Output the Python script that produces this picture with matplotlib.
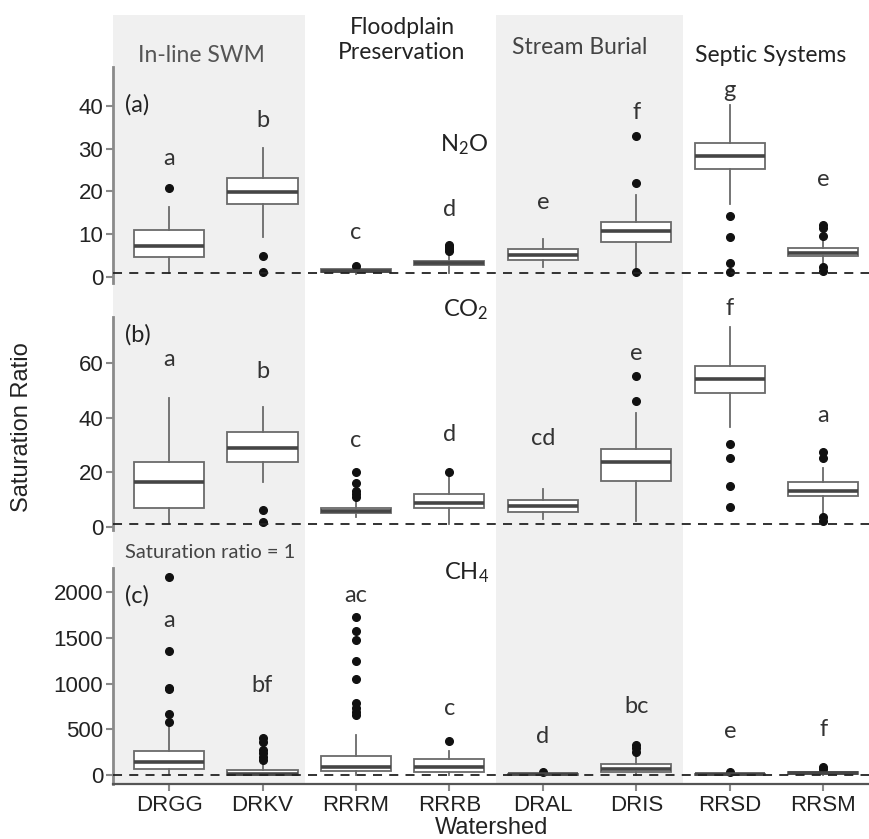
import matplotlib
matplotlib.use('Agg')
import matplotlib.pyplot as plt

plt.rcParams['mathtext.fontset'] = 'custom'
plt.rcParams['mathtext.rm'] = 'Lato'
plt.rcParams['mathtext.it'] = 'Lato:italic'

watersheds = ['DRGG', 'DRKV', 'RRRM', 'RRRB', 'DRAL', 'DRIS', 'RRSD', 'RRSM']
groups = ['In-line SWM', 'Floodplain\nPreservation', 'Stream Burial', 'Septic Systems']

# ---- N2O ----
n2o_whislo = [1.0, 9.3, 0.8, 1.0, 2.4, 1.5, 17.1, 3.3]
n2o_q1 = [4.6, 17.1, 1.2, 2.7, 4.0, 8.3, 25.2, 4.9]
n2o_med = [7.3, 19.8, 1.5, 3.2, 5.1, 10.8, 28.4, 5.7]
n2o_q3 = [11.0, 23.1, 1.8, 3.8, 6.5, 12.8, 31.4, 6.7]
n2o_whishi = [16.4, 30.2, 2.3, 5.3, 8.8, 19.2, 40.2, 9.0]
n2o_fliers = [[20.8], [4.9, 1.2], [2.6], [6.0, 6.5, 7.0, 7.4], [],
              [21.9, 33.0, 1.1], [14.3, 9.3, 3.2, 1.2], [9.6, 11.4, 12.2, 2.4, 1.3]]
n2o_letters = ['a', 'b', 'c', 'd', 'e', 'f', 'g', 'e']
n2o_letter_y = [27.6, 36.7, 10.3, 15.7, 17.4, 38.4, 43.6, 22.9]

# ---- CO2 ----
co2_whislo = [1.3, 16.6, 3.5, 1.2, 2.8, 2.3, 36.7, 5.0]
co2_q1 = [6.8, 23.9, 5.1, 6.8, 5.6, 16.8, 48.9, 11.3]
co2_med = [16.6, 29.0, 5.8, 8.7, 7.8, 23.6, 54.0, 13.2]
co2_q3 = [23.6, 34.6, 7.0, 12.1, 9.9, 28.4, 58.9, 16.3]
co2_whishi = [47.0, 44.0, 10.6, 20.0, 13.8, 41.6, 73.0, 21.5]
co2_fliers = [[], [6.2, 1.7], [11.0, 12.1, 13.3, 16.0, 20.2], [20.2], [],
              [46.2, 55.2], [30.3, 25.1, 15.1, 7.2], [25.3, 27.5, 3.6, 2.2]]
co2_letters = ['a', 'b', 'c', 'd', 'cd', 'e', 'f', 'a']
co2_letter_y = [61.4, 56.8, 31.8, 33.8, 32.2, 63.3, 79.8, 40.7]

# ---- CH4 ----
ch4_whislo = [15, 0, 5, 2, 1, 2, 1, 2]
ch4_q1 = [62, 5, 40, 36, 3, 36, 4, 8]
ch4_med = [146, 15, 91, 84, 6, 70, 8, 18]
ch4_q3 = [266, 50, 208, 172, 12, 120, 15, 30]
ch4_whishi = [528, 109, 438, 266, 22, 200, 28, 50]
ch4_fliers = [[583, 667, 937, 955, 1360, 2163], [164, 200, 241, 273, 364, 405],
              [656, 693, 737, 784, 1047, 1250, 1477, 1579, 1725], [372], [35],
              [255, 292, 328], [35], [70, 85]]
ch4_letters = ['a', 'bf', 'ac', 'c', 'd', 'bc', 'e', 'f']
ch4_letter_y = [1696, 985, 1964, 730, 419, 748, 472, 503]

W, H = 870, 839
fig = plt.figure(figsize=(W / 100, H / 100), dpi=100)
LEFT = 113
XLIM = (0.4, 8.5)
ANN_FONT = 'Lato'
TICK_FONT = 'Liberation Sans'


def rect(top, bottom):
    return [LEFT / W, 1 - bottom / H, 1 - LEFT / W, (bottom - top) / H]


# background bands
bg = fig.add_axes(rect(15, 784), zorder=0)
bg.set_xlim(*XLIM)
bg.set_ylim(0, 1)
bg.axis('off')
bg.axvspan(0.4, 2.45, color='#f0f0f0', lw=0)
bg.axvspan(4.5, 6.5, color='#f0f0f0', lw=0)

panels = [
    dict(top=67, bottom=283, ylim=(-1.4, 49.1), ticks=[0, 10, 20, 30, 40],
         stats=(n2o_whislo, n2o_q1, n2o_med, n2o_q3, n2o_whishi, n2o_fliers),
         letters=n2o_letters, ly=n2o_letter_y, tag='(a)', tag_y=40.2,
         gas='N$_\\mathregular{2}$O', gas_y=30.9),
    dict(top=317, bottom=530, ylim=(-1.1, 76.8), ticks=[0, 20, 40, 60],
         stats=(co2_whislo, co2_q1, co2_med, co2_q3, co2_whishi, co2_fliers),
         letters=co2_letters, ly=co2_letter_y, tag='(b)', tag_y=70.2,
         gas='CO$_\\mathregular{2}$', gas_y=79.3),
    dict(top=568, bottom=784, ylim=(-98, 2265), ticks=[0, 500, 1000, 1500, 2000],
         stats=(ch4_whislo, ch4_q1, ch4_med, ch4_q3, ch4_whishi, ch4_fliers),
         letters=ch4_letters, ly=ch4_letter_y, tag='(c)', tag_y=1958,
         gas='CH$_\\mathregular{4}$', gas_y=2210),
]

axes = []
for i, p in enumerate(panels):
    ax = fig.add_axes(rect(p['top'], p['bottom']), zorder=1)
    ax.set_facecolor('none')
    wl, q1, md, q3, wh, fl = p['stats']
    stats = []
    for k in range(len(watersheds)):
        stats.append(dict(whislo=wl[k], q1=q1[k], med=md[k], q3=q3[k],
                          whishi=wh[k], fliers=fl[k], label=watersheds[k]))
    ax.bxp(stats, positions=range(1, 9), widths=0.75, showcaps=False,
           patch_artist=True,
           boxprops=dict(facecolor='white', edgecolor='#6a6a6a', lw=1.3),
           medianprops=dict(color='#454545', lw=2.6),
           whiskerprops=dict(color='#6a6a6a', lw=1.3),
           flierprops=dict(marker='o', markerfacecolor='#111111',
                           markeredgecolor='#111111', markersize=5.5,
                           linestyle='none'))
    ax.axhline(1, color='#222222', ls=(0, (5, 4)), lw=1.3, zorder=4)
    ax.set_xlim(*XLIM)
    ax.set_ylim(*p['ylim'])
    ax.set_yticks(p['ticks'])
    ax.set_yticklabels([str(t) for t in p['ticks']], family=TICK_FONT)
    for s in ['top', 'right']:
        ax.spines[s].set_visible(False)
    ax.spines['left'].set_color('#8a8a8a')
    ax.spines['left'].set_linewidth(2.0)
    ax.tick_params(axis='y', colors='#8a8a8a', length=5, width=1.5,
                   labelcolor='#222222', labelsize=16, pad=2)
    if i < 2:
        ax.spines['bottom'].set_visible(False)
        ax.set_xticks([])
    else:
        ax.spines['bottom'].set_color('#555555')
        ax.spines['bottom'].set_linewidth(1.6)
        ax.set_xticks(range(1, 9))
        ax.set_xticklabels(watersheds, family=TICK_FONT)
        ax.tick_params(axis='x', colors='#8a8a8a', length=5, width=1.5,
                       labelcolor='#222222', labelsize=16, pad=3)
    for k, (lt, yv) in enumerate(zip(p['letters'], p['ly'])):
        ax.text(k + 1, yv, lt, ha='center', va='center', fontsize=17,
                family=ANN_FONT, color='#333333', clip_on=False)
    ax.text(0.53, p['tag_y'], p['tag'], ha='left', va='center', fontsize=17,
            family=ANN_FONT, color='#222222')
    ax.text(4.42, p['gas_y'], p['gas'], ha='right', va='center', fontsize=17,
            family=ANN_FONT, color='#222222', clip_on=False)
    axes.append(ax)

# group headers (figure coordinates in pixels)
hdr = [(201, 55, groups[0], '#555555'), (402, 40, groups[1], '#222222'),
       (580, 48, groups[2], '#444444'), (771, 55, groups[3], '#222222')]
for x, y, t, c in hdr:
    fig.text(x / W, 1 - y / H, t, ha='center', va='center', fontsize=16.5,
             family=ANN_FONT, color=c, linespacing=1.25)

fig.text(125 / W, 1 - 552 / H, 'Saturation ratio = 1', ha='left', va='center',
         fontsize=14.5, family=ANN_FONT, color='#444444')
fig.text(22 / W, 1 - 427 / H, 'Saturation Ratio', rotation=90, ha='center',
         va='center', fontsize=17, family=TICK_FONT, color='#222222')
fig.text((LEFT + (W - LEFT) / 2) / W, 1 - 828 / H, 'Watershed', ha='center',
         va='center', fontsize=17, family=TICK_FONT, color='#222222')

fig.savefig('out.png', dpi=100)
